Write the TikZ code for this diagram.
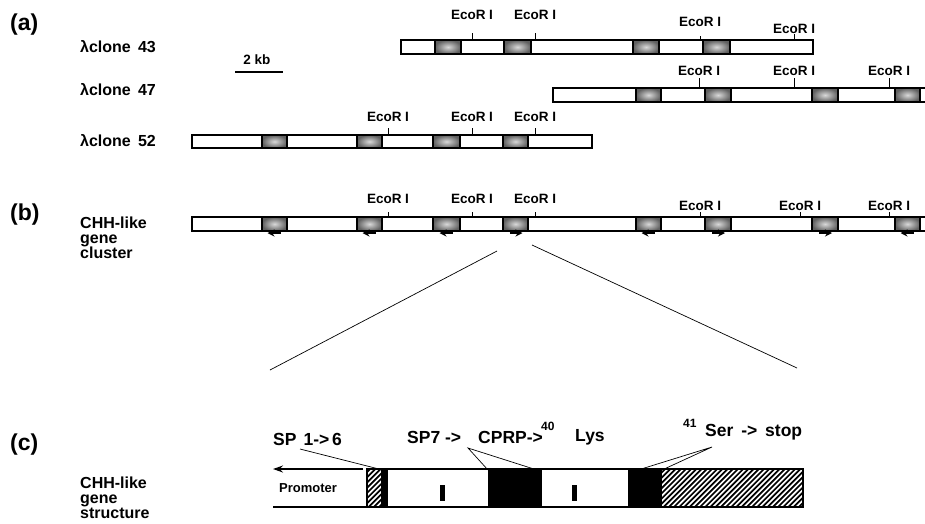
\documentclass[tikz,border=0pt]{standalone}
\usepackage{fontspec}
\setmainfont{Liberation Sans}
\usetikzlibrary{arrows.meta}
\begin{document}
\begin{tikzpicture}[x=1pt,y=-1pt,
  panel/.style={font=\bfseries\fontsize{23}{23}\selectfont, inner sep=0, anchor=west},
  lbl/.style={font=\bfseries\fontsize{16}{16}\selectfont, inner sep=0, anchor=base west},
  eco/.style={font=\bfseries\fontsize{13.5}{13.5}\selectfont, inner sep=0},
  clbl/.style={font=\bfseries\fontsize{17.5}{17.5}\selectfont, inner sep=0, anchor=west},
  sup/.style={font=\bfseries\fontsize{12}{12}\selectfont, inner sep=0, anchor=west},
  barbox/.style={draw, line width=1.4, fill=white},
  exon/.style={draw=black, line width=1.1, inner color=gray!30, outer color=gray!75!black},
  tickmark/.style={line width=0.8},
  leader/.style={line width=0.7},
  orient/.style={line width=1.8, -{Stealth[length=7,width=7]}},
]
\useasboundingbox (0,0) rectangle (925,523);
\clip (0,0) rectangle (925,523);

% ---------- (a) ----------
\node[panel] (pa) at (10,25) {(a)};
\node[lbl] (l43) at (80,52) {λclone\hspace{0.45em}43};
\node[lbl] (l47) at (80,95) {λclone\hspace{0.45em}47};
\node[lbl] (l52) at (80,146) {λclone\hspace{0.45em}52};

% scale bar
\coordinate (sb1) at (235,72);
\coordinate (sb2) at (283,72);
\draw[line width=2] (sb1) -- (sb2);
\node[eco] (kb) at (257,60) {2 kb};

% clone 43
\draw[barbox] (401,40) rectangle (813,54);
\foreach \a/\b in {435/461,504/531,633/659,703/730}
  \shadedraw[exon] (\a,40) rectangle (\b,54);
\foreach \x/\ly/\ta in {472/15/33,535/15/33,700/22/36,794/29/34}{
  \draw[tickmark] (\x,\ta) -- (\x,40);
  \node[eco] (e43-\x) at (\x,\ly) {EcoR I};}

% clone 47
\draw[barbox] (553,88) rectangle (940,102);
\foreach \a/\b in {636/661,705/731,812/838,895/920}
  \shadedraw[exon] (\a,88) rectangle (\b,102);
\foreach \x in {699,794,889}{
  \draw[tickmark] (\x,78) -- (\x,88);
  \node[eco] (e47-\x) at (\x,71) {EcoR I};}

% clone 52
\draw[barbox] (192,135) rectangle (592,148);
\foreach \a/\b in {262/287,357/382,433/460,503/528}
  \shadedraw[exon] (\a,135) rectangle (\b,148);
\foreach \x in {388,472,535}{
  \draw[tickmark] (\x,128) -- (\x,135);
  \node[eco] (e52-\x) at (\x,117) {EcoR I};}

% ---------- (b) ----------
\node[panel] (pb) at (10,215) {(b)};
\node[lbl] (b1) at (80,228) {CHH-like};
\node[lbl] (b2) at (80,243) {gene};
\node[lbl] (b3) at (80,258) {cluster};

\draw[barbox] (192,217) rectangle (940,231);
\foreach \a/\b in {262/287,357/382,433/460,503/528,636/661,705/731,812/838,895/920}
  \shadedraw[exon] (\a,217) rectangle (\b,231);
\foreach \x/\ly in {388/199,472/199,535/199,700/206,800/206,889/206}{
  \draw[tickmark] (\x,212) -- (\x,217);
  \node[eco] (eb-\x) at (\x,\ly) {EcoR I};}
% transcription orientation
\foreach \c in {274.5,369.5,446.5,648.5,907.5}
  \draw[orient] (\c+6,233) -- (\c-7,233);
\foreach \c in {515.5,718,825}
  \draw[orient] (\c-6,233) -- (\c+7,233);

% expansion lines
\coordinate (zl1) at (497,251);
\coordinate (zl2) at (270,370);
\coordinate (zr1) at (532,245);
\coordinate (zr2) at (797,368);
\draw[leader] (zl1) -- (zl2);
\draw[leader] (zr1) -- (zr2);

% ---------- (c) ----------
\node[panel] (pc) at (10,445) {(c)};
\node[lbl] (c1) at (80,488) {CHH-like};
\node[lbl] (c2) at (80,503) {gene};
\node[lbl] (c3) at (80,518) {structure};

\coordinate (pr1) at (363,469);
\coordinate (pr2) at (273,469);
\draw[line width=1.4, -{Stealth[length=10,width=7]}] (pr1) -- (pr2);
\coordinate (bl1) at (273,507);
\coordinate (bl2) at (367,507);
\draw[line width=1.4] (bl1) -- (bl2);
\node[font=\bfseries\fontsize{13}{13}\selectfont, inner sep=0] (prom) at (308,488) {Promoter};

% hatched parts
\foreach \l/\r in {367/381,662/803}{
  \begin{scope}
    \clip (\l,469) rectangle (\r,507);
    \foreach \i in {0,...,35}
      \draw[line width=1.7] ({\l-40+\i*5.2},507) -- ++(40,-40);
  \end{scope}}
\fill[black] (381,469) rectangle (388,507);
\fill[black] (488,469) rectangle (542,507);
\fill[black] (628,469) rectangle (662,507);
\draw[line width=1.4] (367,469) rectangle (803,507);
% intron marks
\fill[black] (440,485) rectangle (444.5,501);
\fill[black] (572,485) rectangle (576.5,501);

% labels
\node[clbl] (sp16) at (273,439) {SP\hspace{0.4em}1->\,6};
\node[clbl] (sp7) at (407,437) {SP7 ->};
\node[clbl] (cprp) at (478,437) {CPRP->};
\node[sup] (s40) at (541,426) {40};
\node[clbl] (lys) at (575,437) {Lys};
\node[sup] (s41) at (683,423) {41};
\node[clbl] (ser) at (705,432) {Ser\hspace{0.45em}->\hspace{0.45em}stop};

\coordinate (a1) at (300,449);
\coordinate (a2) at (379,469);
\draw[leader] (a1) -- (a2);
\coordinate (b0) at (468,448);
\coordinate (b4) at (488,470);
\coordinate (b5) at (537,470);
\draw[leader] (b4) -- (b0) -- (b5);
\coordinate (d0) at (712,447);
\coordinate (d1) at (638,470);
\coordinate (d2) at (662,470);
\draw[leader] (d1) -- (d0) -- (d2);
\end{tikzpicture}
\end{document}
